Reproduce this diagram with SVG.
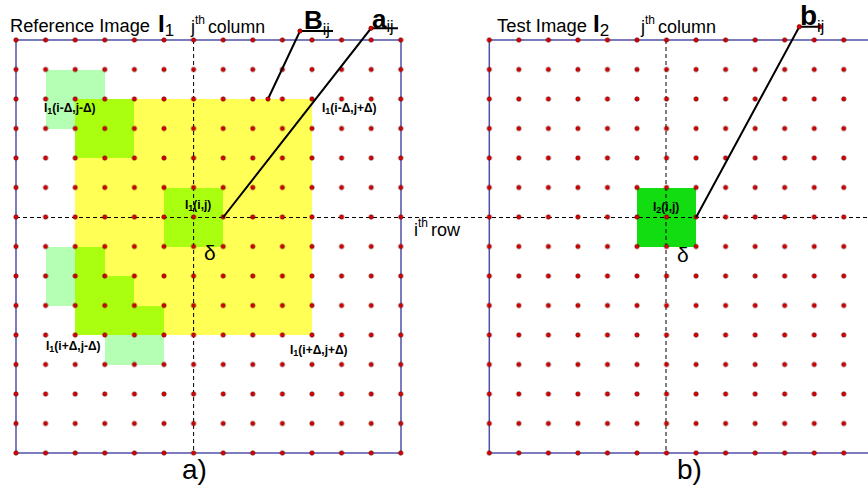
<svg xmlns="http://www.w3.org/2000/svg" width="868" height="488" viewBox="0 0 868 488">
<style>
text{font-family:"Liberation Sans",Arial,sans-serif;fill:#000}
.pale{fill:#b5ffb5}
.yel{fill:#ffff55}
.yg{fill:#aaff11}
.grn{fill:#11dd11}
.frame{fill:none;stroke:#5050a8;stroke-width:1.5}
.dash{stroke:#000;stroke-width:1;stroke-dasharray:4 3;fill:none}
.lead{stroke:#000;stroke-width:2;fill:none}
.dot{fill:#e00000;stroke:#500;stroke-width:0.6}
.lbl{font-size:12px;font-weight:bold}
.big{font-size:18px}
</style>
<defs>
<pattern id="dotsL" patternUnits="userSpaceOnUse" x="1.2" y="25.25" width="29.6" height="29.5">
<circle class="dot" cx="14.8" cy="14.75" r="2.2"/>
</pattern>
<pattern id="dotsR" patternUnits="userSpaceOnUse" x="474.53" y="25.25" width="29.54" height="29.5">
<circle class="dot" cx="14.77" cy="14.75" r="2.2"/>
</pattern>
</defs>
<rect width="868" height="488" fill="#fff"/>

<g id="panel-a">
<rect class="yel" x="75" y="99" width="237" height="236"/>
<rect class="pale" x="46" y="70" width="59" height="59"/>
<rect class="pale" x="46" y="247" width="29" height="59"/>
<rect class="pale" x="105" y="335" width="59" height="30"/>
<rect class="yg" x="75" y="99" width="59" height="59"/>
<rect class="yg" x="164" y="188" width="59" height="59"/>
<polygon class="yg" points="75,247 105,247 105,276 134,276 134,306 164,306 164,335 75,335"/>
<rect class="frame" x="16" y="40" width="385" height="413"/>
<line class="dash" x1="193.6" y1="40" x2="193.6" y2="453"/>
</g>

<g id="panel-b">
<rect class="grn" x="637" y="188" width="59" height="59"/>
<rect class="frame" x="489.3" y="40" width="400" height="413"/>
<line class="dash" x1="666" y1="40" x2="666" y2="453"/>
</g>

<line id="row-line" class="dash" x1="16" y1="217.5" x2="868" y2="217.5"/>

<g id="dots">
<rect x="1.2" y="25.25" width="414.4" height="442.5" fill="url(#dotsL)"/>
<rect x="474.53" y="25.25" width="384" height="442.5" fill="url(#dotsR)"/>
</g>

<g id="connectors">
<polyline class="lead" points="268,99 300,31 333,31"/>
<polyline class="lead" points="223,217.5 371,28.3 398,28.3"/>
<polyline class="lead" points="696,217.5 799.3,26.7 820,26.7"/>
<circle class="dot" cx="268" cy="99" r="2.2"/>
<circle class="dot" cx="300" cy="31" r="2.2"/>
<circle class="dot" cx="371" cy="28.3" r="2.2"/>
<circle class="dot" cx="799.3" cy="26.7" r="2.2"/>
<circle class="dot" cx="820" cy="26.7" r="2.2"/>
</g>

<g id="titles">
<text class="big" x="10" y="32" textLength="140" lengthAdjust="spacingAndGlyphs">Reference Image</text>
<text x="158" y="32" font-size="24" font-weight="bold">I<tspan font-size="17" font-weight="normal" dy="4">1</tspan></text>
<text x="191" y="33" font-size="18">j<tspan font-size="12" dy="-9">th</tspan><tspan dy="9" dx="3" textLength="57" lengthAdjust="spacingAndGlyphs">column</tspan></text>
<text x="304" y="29.3" font-size="26" font-weight="bold">B<tspan font-size="16" font-weight="normal" dy="6">ij</tspan></text>
<text x="372" y="28" font-size="26" font-weight="bold">a<tspan font-size="16" font-weight="normal" dy="4">ij</tspan></text>

<text class="big" x="497" y="32" textLength="90" lengthAdjust="spacingAndGlyphs">Test Image</text>
<text x="593" y="32" font-size="24" font-weight="bold">I<tspan font-size="17" font-weight="normal" dy="4">2</tspan></text>
<text x="641" y="33" font-size="18">j<tspan font-size="12" dy="-9">th</tspan><tspan dy="9" dx="3" textLength="58" lengthAdjust="spacingAndGlyphs">column</tspan></text>
<text x="800" y="25" font-size="28" font-weight="bold">b<tspan font-size="16" font-weight="normal" dy="7">ij</tspan></text>

<text x="414" y="236" font-size="18">i<tspan font-size="12" dy="-9">th</tspan><tspan dy="9" dx="3">row</tspan></text>
<text x="182" y="479" font-size="28">a)</text>
<text x="677" y="479" font-size="28">b)</text>
</g>

<g id="cell-labels">
<text class="lbl" x="44" y="112">I<tspan font-size="9" dy="2">1</tspan><tspan dy="-2">(i-Δ,j-Δ)</tspan></text>
<text class="lbl" x="322" y="112">I<tspan font-size="9" dy="2">1</tspan><tspan dy="-2">(i-Δ,j+Δ)</tspan></text>
<text class="lbl" x="46" y="350">I<tspan font-size="9" dy="2">1</tspan><tspan dy="-2">(i+Δ,j-Δ)</tspan></text>
<text class="lbl" x="290" y="354">I<tspan font-size="9" dy="2">1</tspan><tspan dy="-2">(i+Δ,j+Δ)</tspan></text>
<text class="lbl" x="185" y="209">I<tspan font-size="9" dy="2">1</tspan><tspan dy="-2">(i,j)</tspan></text>
<text class="lbl" x="653" y="211">I<tspan font-size="9" dy="2">2</tspan><tspan dy="-2">(i,j)</tspan></text>
<text x="204" y="260" font-size="21">δ</text>
<text x="677" y="262" font-size="21">δ</text>
</g>
</svg>
